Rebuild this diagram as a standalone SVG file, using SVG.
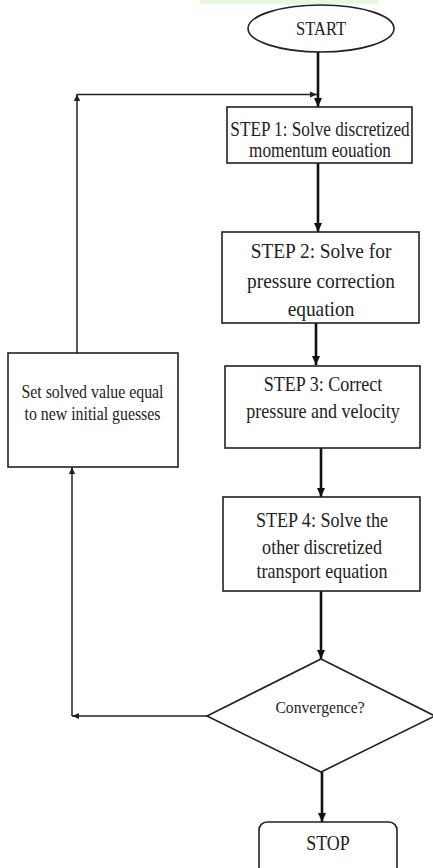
<svg xmlns="http://www.w3.org/2000/svg" width="433" height="868" viewBox="0 0 433 868">
<defs>
<style>
.box{fill:#fff;stroke:#222;stroke-width:1.6}
.t{font-family:"Liberation Serif","Times New Roman",serif;fill:#222;text-anchor:middle}
.thick{fill:none;stroke:#111;stroke-width:2.6}
.thin{fill:none;stroke:#222;stroke-width:1.5}
</style>
<marker id="ah" markerUnits="userSpaceOnUse" markerWidth="10" markerHeight="10" viewBox="0 0 10 10" refX="9" refY="5" orient="auto">
<path d="M0,1 L9,5 L0,9 Z" fill="#111"/>
</marker>
<marker id="ahs" markerUnits="userSpaceOnUse" markerWidth="8" markerHeight="8" viewBox="0 0 10 10" refX="9" refY="5" orient="auto">
<path d="M0,1 L9,5 L0,9 Z" fill="#222"/>
</marker>
</defs>
<rect width="433" height="868" fill="#fff"/>
<rect x="200" y="0" width="178" height="4" fill="#e6f8e0"/>

<g id="connectors">
<path class="thick" d="M318,52 V107" marker-end="url(#ah)"/>
<path class="thick" d="M318,163 V232" marker-end="url(#ah)"/>
<path class="thick" d="M316,323 V365" marker-end="url(#ah)"/>
<path class="thick" d="M321,448 V497" marker-end="url(#ah)"/>
<path class="thick" d="M321,591 V659" marker-end="url(#ah)"/>
<path class="thick" d="M322,772 V822" marker-end="url(#ah)"/>
<path class="thin" d="M207,716 H72" marker-end="url(#ahs)"/>
<path class="thin" d="M72,716 V467" marker-end="url(#ahs)"/>
<path class="thin" d="M77,353 V94" marker-end="url(#ahs)"/>
<path class="thin" d="M77,94.5 H317" marker-end="url(#ahs)"/>
</g>

<g id="start">
<ellipse class="box" cx="321" cy="28.5" rx="73" ry="23.5"/>
<text class="t" font-size="19" transform="translate(321,0) scale(0.87,1)"><tspan x="0" y="35">START</tspan></text>
</g>

<g id="step1">
<rect class="box" x="227" y="107" width="185" height="56"/>
<text class="t" font-size="20" transform="translate(320,0) scale(0.86,1)"><tspan x="0" y="136">STEP 1: Solve discretized</tspan><tspan x="0" y="157">momentum eouation</tspan></text>
</g>

<g id="step2">
<rect class="box" x="222" y="232" width="197" height="91"/>
<text class="t" font-size="22" transform="translate(321,0) scale(0.88,1)"><tspan x="0" y="258">STEP 2: Solve for</tspan><tspan x="0" y="288">pressure correction</tspan><tspan x="0" y="316">equation</tspan></text>
</g>

<g id="step3">
<rect class="box" x="225" y="366" width="195" height="82"/>
<text class="t" font-size="21" transform="translate(323,0) scale(0.86,1)"><tspan x="0" y="391">STEP 3: Correct</tspan><tspan x="0" y="418">pressure and velocity</tspan></text>
</g>

<g id="step4">
<rect class="box" x="223" y="497" width="197" height="94"/>
<text class="t" font-size="21" transform="translate(322,0) scale(0.86,1)"><tspan x="0" y="527">STEP 4: Solve the</tspan><tspan x="0" y="554">other discretized</tspan><tspan x="0" y="578">transport equation</tspan></text>
</g>

<g id="update">
<rect class="box" x="8" y="353" width="170" height="114"/>
<text class="t" font-size="18" transform="translate(92.5,0) scale(0.88,1)"><tspan x="0" y="398">Set solved value equal</tspan><tspan x="0" y="420">to new initial guesses</tspan></text>
</g>

<g id="convergence">
<polygon class="box" points="321,659 435,716 321,772 207,716"/>
<text class="t" font-size="17" transform="translate(320,0) scale(0.92,1)"><tspan x="0" y="713">Convergence?</tspan></text>
</g>

<g id="stop">
<rect class="box" x="259" y="822" width="138" height="62" rx="8"/>
<text class="t" font-size="20" transform="translate(328,0) scale(0.9,1)"><tspan x="0" y="850">STOP</tspan></text>
</g>
</svg>
